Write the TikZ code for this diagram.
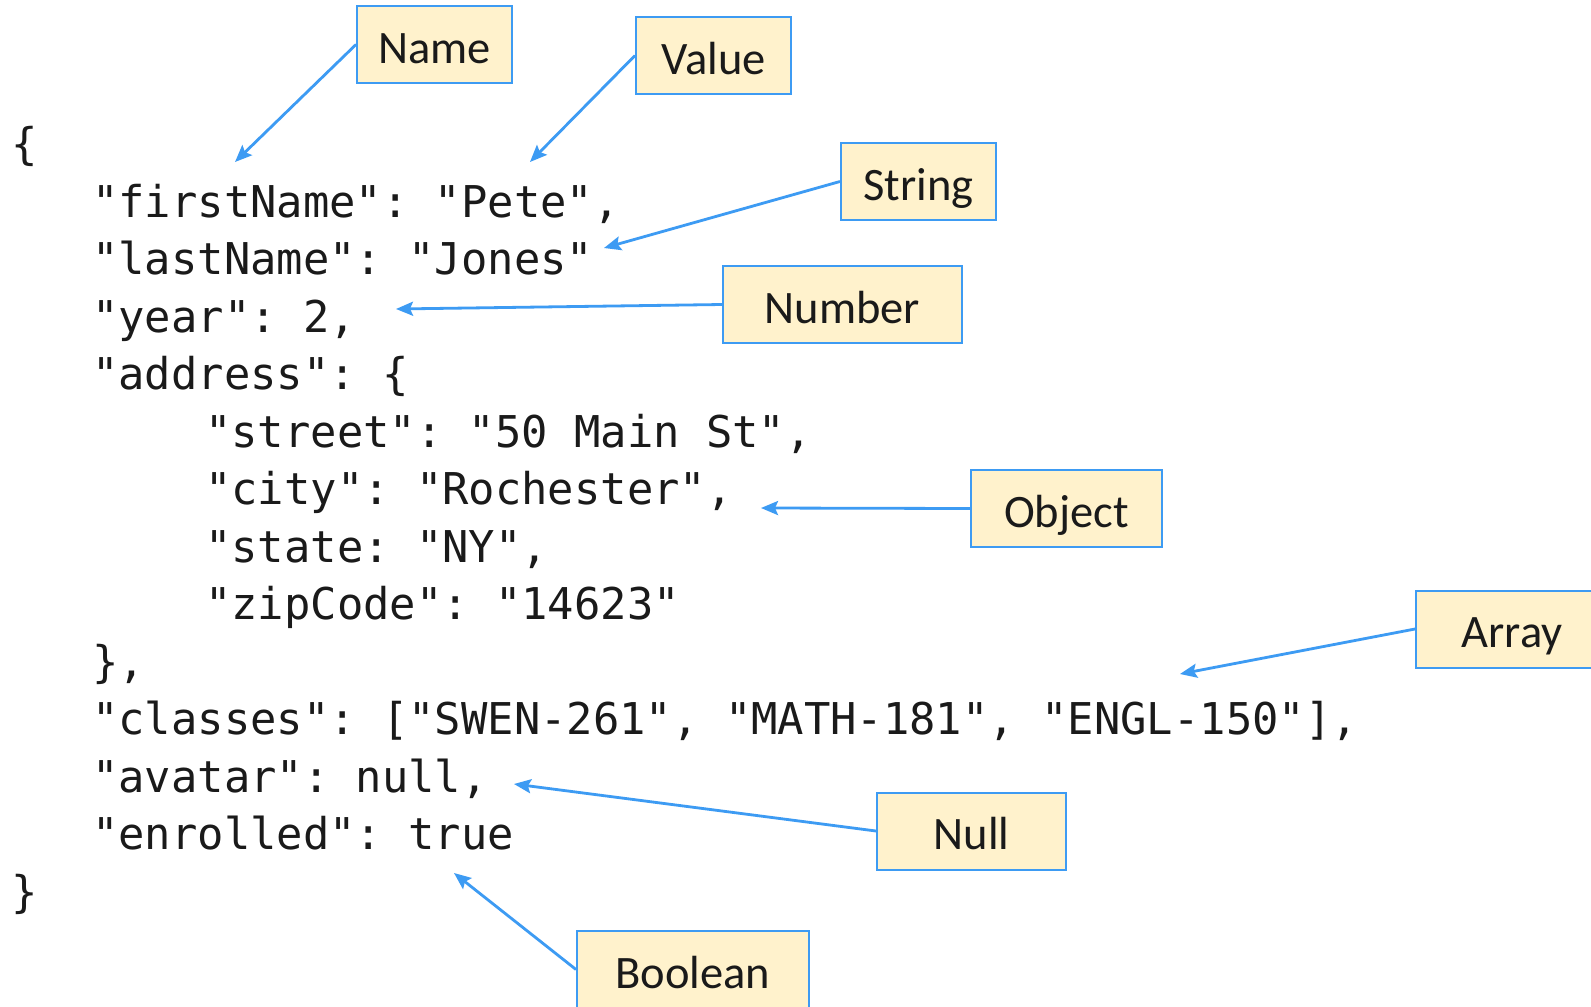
\documentclass[tikz,border=0pt]{standalone}
\usepackage{fontspec}
\setmainfont{Carlito}
\newfontfamily\codefont{DejaVu Sans Mono}
\usetikzlibrary{arrows.meta}
\definecolor{lblue}{HTML}{3D9BF3}
\definecolor{lfill}{HTML}{FFF2CC}
\definecolor{ink}{HTML}{1A1A1A}
\begin{document}
\begin{tikzpicture}[x=1pt,y=-1pt,
  lbl/.style={draw=lblue, fill=lfill, line width=2pt, inner sep=0pt,
    minimum height=77pt, text height=37pt, text depth=0pt,
    text=ink, font=\fontsize{46.5}{46.5}\selectfont},
  code/.style={anchor=base west, inner sep=0pt, text=ink,
    font=\codefont\frenchspacing\fontsize{43.8}{43.8}\selectfont},
  arr/.style={draw=lblue, line width=2.8pt,
    -{Stealth[length=17pt,width=14pt,inset=3pt]}}]
\useasboundingbox (0,0) rectangle (1591,1007);
\fill[white] (0,0) rectangle (1591,1007);

% code lines
\node[code] (l0)  at (11,159.5)  {\{};
\node[code] (l1)  at (92,217)    {"firstName": "Pete",};
\node[code] (l2)  at (92,274.5)  {"lastName": "Jones"};
\node[code] (l3)  at (92,332)    {"year": 2,};
\node[code] (l4)  at (92,389.5)  {"address": \{};
\node[code] (l5)  at (205,447)   {"street": "50 Main St",};
\node[code] (l6)  at (205,504.5) {"city": "Rochester",};
\node[code] (l7)  at (205,562)   {"state: "NY",};
\node[code] (l8)  at (205,619.5) {"zipCode": "14623"};
\node[code] (l9)  at (92,677)    {\},};
\node[code] (l10) at (92,734.5)  {"classes": ["SWEN-261", "MATH-181", "ENGL-150"],};
\node[code] (l11) at (92,792)    {"avatar": null,};
\node[code] (l12) at (92,849.5)  {"enrolled": true};
\node[code] (l13) at (11,907)    {\}};

% label boxes
\node[lbl, minimum width=155pt] (name)   at (434.5,44.5) {Name};
\node[lbl, minimum width=155pt] (value)  at (713.5,55.5) {Value};
\node[lbl, minimum width=155pt] (string) at (918.5,181.5) {String};
\node[lbl, minimum width=239pt] (number) at (842.5,304.5) {Number};
\node[lbl, minimum width=191pt] (object) at (1066.5,508.5) {Object};
\node[lbl, minimum width=192pt] (array)  at (1512,629) {Array};
\node[lbl, minimum width=189pt] (null)   at (971.5,831) {Null};
\node[lbl, minimum width=232pt] (bool)   at (693,969.5) {Boolean};

% arrow tips
\coordinate (tName)   at (235,162);
\coordinate (tValue)  at (530,162);
\coordinate (tString) at (604,248);
\coordinate (tNumber) at (396,309);
\coordinate (tObject) at (761,508);
\coordinate (tArray)  at (1180,674);
\coordinate (tNull)   at (514,784);
\coordinate (tBool)   at (454,873);

\draw[arr] (name.west)   -- (tName);
\draw[arr] (value.west)  -- (tValue);
\draw[arr] (string.west) -- (tString);
\draw[arr] (number.west) -- (tNumber);
\draw[arr] (object.west) -- (tObject);
\draw[arr] (array.west)  -- (tArray);
\draw[arr] (null.west)   -- (tNull);
\draw[arr] (bool.west)   -- (tBool);
\end{tikzpicture}
\end{document}
